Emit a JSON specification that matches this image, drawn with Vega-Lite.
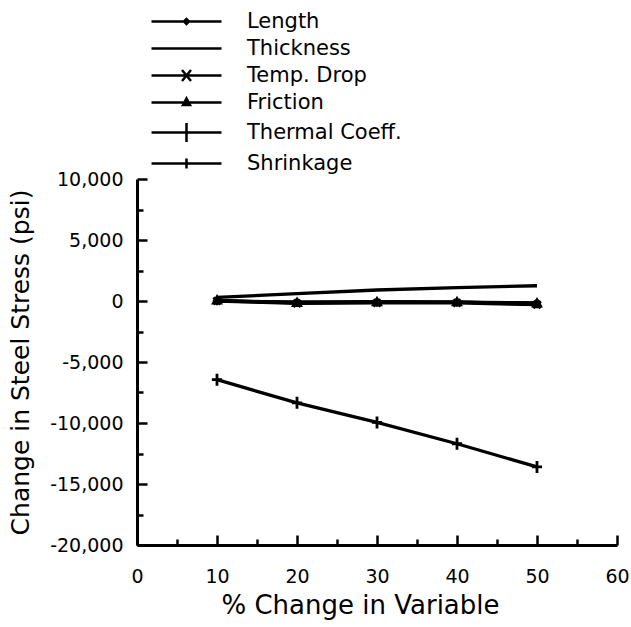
{
  "$schema": "https://vega.github.io/schema/vega-lite/v6.json",
  "autosize": {"type": "none"},
  "width": 480,
  "height": 366,
  "padding": {"left": 137, "top": 179, "right": 14, "bottom": 82},
  "background": "white",
  "config": {
    "font": "DejaVu Sans",
    "view": {"stroke": null},
    "axis": {"grid": false, "domainColor": "black", "tickColor": "black", "labelColor": "black", "titleColor": "black", "labelFont": "DejaVu Sans", "titleFont": "DejaVu Sans", "titleFontWeight": "normal"}
  },
  "data": {
    "values": [
      {"pct": 10, "stress": 0, "series": "Length"},
      {"pct": 20, "stress": -100, "series": "Length"},
      {"pct": 30, "stress": -100, "series": "Length"},
      {"pct": 40, "stress": -100, "series": "Length"},
      {"pct": 50, "stress": -150, "series": "Length"},
      {"pct": 10, "stress": 300, "series": "Thickness"},
      {"pct": 20, "stress": 600, "series": "Thickness"},
      {"pct": 30, "stress": 900, "series": "Thickness"},
      {"pct": 40, "stress": 1100, "series": "Thickness"},
      {"pct": 50, "stress": 1250, "series": "Thickness"},
      {"pct": 10, "stress": 0, "series": "Temp. Drop"},
      {"pct": 20, "stress": -200, "series": "Temp. Drop"},
      {"pct": 30, "stress": -150, "series": "Temp. Drop"},
      {"pct": 40, "stress": -150, "series": "Temp. Drop"},
      {"pct": 50, "stress": -300, "series": "Temp. Drop"},
      {"pct": 10, "stress": 50, "series": "Friction"},
      {"pct": 20, "stress": -150, "series": "Friction"},
      {"pct": 30, "stress": -100, "series": "Friction"},
      {"pct": 40, "stress": -100, "series": "Friction"},
      {"pct": 50, "stress": -200, "series": "Friction"},
      {"pct": 10, "stress": -6450, "series": "Thermal Coeff."},
      {"pct": 20, "stress": -8350, "series": "Thermal Coeff."},
      {"pct": 30, "stress": -9950, "series": "Thermal Coeff."},
      {"pct": 40, "stress": -11700, "series": "Thermal Coeff."},
      {"pct": 50, "stress": -13600, "series": "Thermal Coeff."},
      {"pct": 10, "stress": 0, "series": "Shrinkage"},
      {"pct": 20, "stress": -100, "series": "Shrinkage"},
      {"pct": 30, "stress": -50, "series": "Shrinkage"},
      {"pct": 40, "stress": -100, "series": "Shrinkage"},
      {"pct": 50, "stress": -200, "series": "Shrinkage"}
    ]
  },
  "resolve": {"scale": {"shape": "independent"}, "axis": {"x": "independent", "y": "independent"}},
  "layer": [
    {
      "mark": {"type": "line", "color": "black", "strokeWidth": 3.3},
      "encoding": {
        "x": {"field": "pct", "type": "quantitative", "scale": {"domain": [0, 60], "nice": false},
          "axis": {"orient": "bottom", "values": [0, 10, 20, 30, 40, 50, 60], "labelFlush": false, "tickSize": -10, "tickWidth": 2.5, "domainWidth": 3, "labelFontSize": 19, "labelPadding": 32, "title": "% Change in Variable", "titleFontSize": 26, "titlePadding": 6, "titleX": 223}},
        "y": {"field": "stress", "type": "quantitative", "scale": {"domain": [-20000, 10000], "nice": false},
          "axis": {"orient": "left", "values": [-20000, -15000, -10000, -5000, 0, 5000, 10000], "labelFlush": false, "labelExpr": "replace(format(datum.value, ','), '\u2212', '-')", "tickSize": -10, "tickWidth": 2.5, "domainWidth": 3, "labelFontSize": 19, "labelPadding": 24, "title": "Change in Steel Stress (psi)", "titleFontSize": 25, "titlePadding": 16}},
        "detail": {"field": "series"}
      }
    },
    {
      "mark": {"type": "point", "color": "black", "filled": false, "strokeWidth": 2.8, "opacity": 1, "size": 144},
      "encoding": {
        "x": {"field": "pct", "type": "quantitative", "scale": {"domain": [0, 60], "nice": false},
          "axis": {"orient": "bottom", "values": [5, 15, 25, 35, 45, 55], "tickSize": -6, "tickWidth": 2.5, "domain": false, "labels": false, "title": null}},
        "y": {"field": "stress", "type": "quantitative", "scale": {"domain": [-20000, 10000], "nice": false},
          "axis": {"orient": "left", "values": [-17500, -12500, -7500, -2500, 2500, 7500], "tickSize": -6, "tickWidth": 2.5, "domain": false, "labels": false, "title": null}},
        "shape": {"field": "series", "type": "nominal", "legend": null,
          "scale": {"domain": ["Length", "Thickness", "Temp. Drop", "Friction", "Thermal Coeff.", "Shrinkage"],
            "range": ["M-0.45,0L0,-0.45L0.45,0L0,0.45Z", "M0,0L0,0", "M-0.6,-0.6L0.6,0.6M-0.6,0.6L0.6,-0.6M0,-0.6V0.6", "M-0.6,0.45L0,-0.6L0.6,0.45Z", "M0,-1V1M-0.85,0H0.85", "M0,-0.6V0.6M-0.6,0H0.6"]}}
      }
    },
    {
      "mark": {"type": "point", "color": "black", "filled": false, "opacity": 0},
      "encoding": {
        "x": {"field": "pct", "type": "quantitative", "scale": {"domain": [0, 60], "nice": false}, "axis": null},
        "y": {"field": "stress", "type": "quantitative", "scale": {"domain": [-20000, 10000], "nice": false}, "axis": null},
        "shape": {"field": "series", "type": "nominal",
          "scale": {"domain": ["Length", "Thickness", "Temp. Drop", "Friction", "Thermal Coeff.", "Shrinkage"],
            "range": ["M-1,0H6M2.25,0L2.5,-0.25L2.75,0L2.5,0.25Z", "M-1,0H6", "M-1,0H6M2.05,-0.55L2.95,0.55M2.05,0.55L2.95,-0.55", "M-1,0H6M2.15,0.25L2.5,-0.4L2.85,0.25Z", "M-1,0H6M2.5,-0.95V0.95", "M-1,0H6M2.5,-0.5V0.5"]},
          "legend": {"orient": "none", "legendX": 13, "legendY": -169, "title": null, "symbolSize": 400, "symbolStrokeWidth": 2.5, "symbolStrokeColor": "black", "symbolFillColor": "black", "symbolOpacity": 1, "labelFont": "DejaVu Sans", "labelFontSize": 21, "labelColor": "black", "labelOffset": 74, "rowPadding": 5}
        }
      }
    }
  ]
}
